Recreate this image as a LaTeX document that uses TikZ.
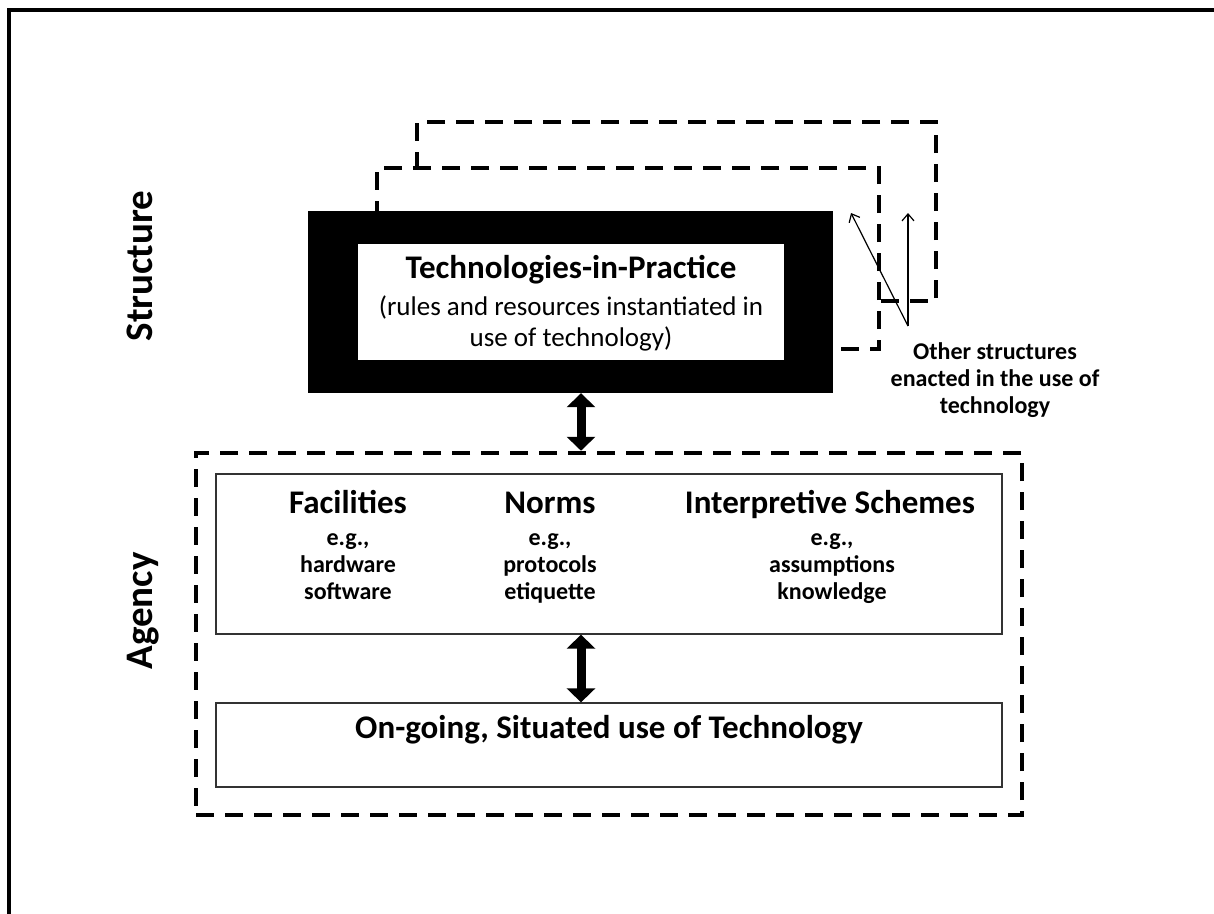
\documentclass[tikz,border=0pt]{standalone}
\usepackage{fontspec}
\setmainfont{Carlito}
\usetikzlibrary{arrows.meta,fit}

\begin{document}
\begin{tikzpicture}[x=1pt,y=-1pt,
    dashbox/.style={draw, line width=4.5pt, dash pattern=on 18pt off 11pt, inner sep=0pt},
    linebox/.style={draw=black!80, line width=1.3pt, inner sep=0pt},
    heading/.style={font=\bfseries\fontsize{33}{38}\selectfont, anchor=base},
    subtext/.style={font=\bfseries\fontsize{24}{27}\selectfont, align=center, anchor=base},
    sidelabel/.style={font=\bfseries\fontsize{39}{44}\selectfont, rotate=90, anchor=base},
    twoway/.style={line width=9pt, {Triangle[width=28pt,length=14pt]}-{Triangle[width=28pt,length=14pt]}},
    pointer/.style={line width=1.2pt, -{Straight Barb[length=7pt,width=12pt]}}]

\useasboundingbox[fill=white] (0,0) rectangle (1214,913);
\draw[line width=4pt] (9,10) rectangle (1240,940);

% structure side
\node[dashbox, fit={(417,122) (936,301)}] (other2) {};
\node[dashbox, fill=white, fit={(377,168) (879,349)}] (other1) {};
\node[fill=black, inner sep=0pt, fit={(308,211) (833,393)}] (tech) {};
\node[fill=white, inner sep=0pt, fit={(358,244) (784,360)}] (techin) {};
\node[heading] (techtitle) at (571,278) {Technologies-in-Practice};
\node[font=\fontsize{27}{31}\selectfont, align=center, anchor=base] (techsub) at (571,346)
    {(rules and resources instantiated in\\use of technology)};

\node[subtext] (othertext) at (995,413) {Other structures\\enacted in the use of\\technology};
\coordinate (root) at (908,326);
\coordinate (tipa) at (851,213);
\coordinate (tipb) at (908,213);
\draw[pointer] (root) -- (tipa);
\draw[pointer] (root) -- (tipb);

% agency side
\node[dashbox, fit={(196,453) (1022,815)}] (agency) {};
\node[linebox, fit={(216,474) (1002,634)}] (modal) {};
\node[linebox, fit={(216,703) (1002,787)}] (use) {};

\node[heading] (fac) at (348,513) {Facilities};
\node[subtext] (facex) at (348,599) {e.g.,\\hardware\\software};
\node[heading] (norm) at (550,513) {Norms};
\node[subtext] (normex) at (550,599) {e.g.,\\protocols\\etiquette};
\node[heading] (scheme) at (830,513) {Interpretive Schemes};
\node[subtext] (schemeex) at (832,599) {e.g.,\\assumptions\\knowledge};
\node[heading] (usetext) at (609,738) {On-going, Situated use of Technology};

\node[sidelabel] (structure) at (152,266) {Structure};
\node[sidelabel] (agencylabel) at (152,611) {Agency};

\coordinate (axis) at (581,0);
\draw[twoway] (tech.south -| axis) -- (agency.north -| axis);
\draw[twoway] (modal.south -| axis) -- (use.north -| axis);

\end{tikzpicture}
\end{document}
